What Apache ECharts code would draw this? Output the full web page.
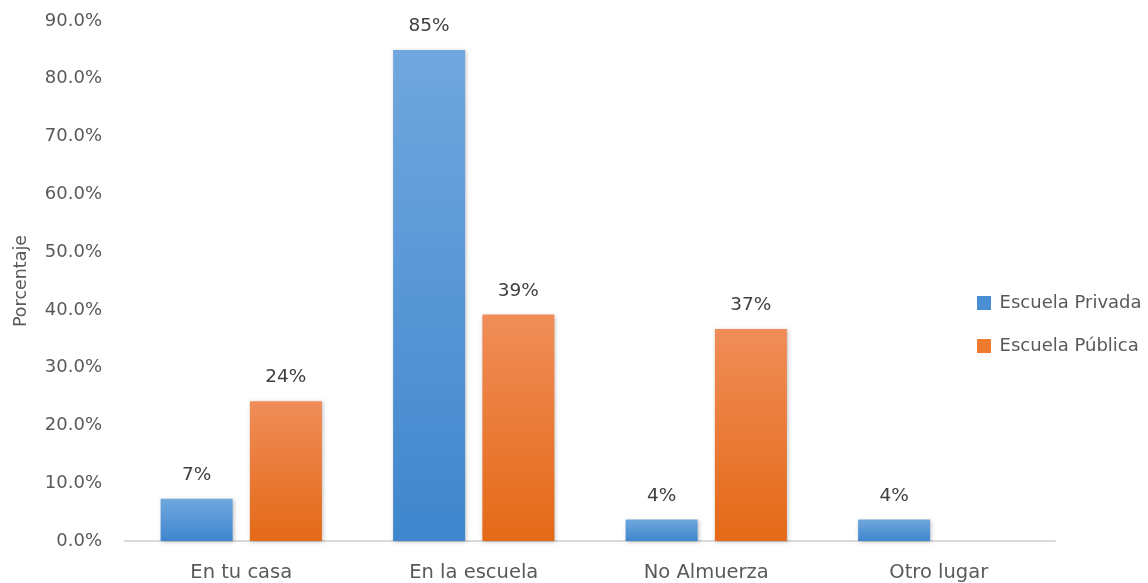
<!DOCTYPE html>
<html>
<head>
<meta charset="utf-8">
<script src="https://cdn.jsdelivr.net/npm/echarts@6/dist/echarts.min.js"></script>
<style>
  html, body { margin: 0; padding: 0; background: #fff; }
  #chart { width: 1148px; height: 583px; }
</style>
</head>
<body>
<div id="chart"></div>
<script>
// Lugar donde almuerzan los estudiantes, por tipo de escuela (%)
const categories = ['En tu casa', 'En la escuela', 'No Almuerza', 'Otro lugar'];
const privada = [7.3, 85.0, 3.7, 3.7];
const publica = [24.2, 39.2, 36.7, 0];
const seriesNames = ['Escuela Privada', 'Escuela Pública'];

const FONT = '"DejaVu Sans", sans-serif';

function grad(top, bottom) {
  return new echarts.graphic.LinearGradient(0, 0, 0, 1, [
    { offset: 0, color: top },
    { offset: 1, color: bottom }
  ]);
}

function barSeries(name, data, top, bottom) {
  return {
    name: name,
    type: 'bar',
    data: data.map(v => v === 0 ? null : v),
    barWidth: 72,
    barGap: '24%',
    itemStyle: {
      color: grad(top, bottom),
      shadowColor: 'rgba(0,0,0,0.25)',
      shadowBlur: 4,
      shadowOffsetX: 1,
      shadowOffsetY: 1
    },
    label: {
      show: true,
      position: 'top',
      distance: 14,
      color: '#404040',
      fontSize: 18.5,
      fontFamily: FONT,
      formatter: p => Math.round(p.value) + '%'
    }
  };
}

const chart = echarts.init(document.getElementById('chart'));
chart.setOption({
  animation: false,
  grid: { left: 125, right: 93, top: 21, bottom: 41 },
  legend: {
    orient: 'vertical',
    left: 972,
    top: 289,
    itemGap: 25,
    itemWidth: 14,
    itemHeight: 14,
    icon: 'rect',
    textStyle: { color: '#595959', fontSize: 18, fontFamily: FONT },
    // thin space between the swatch and the series name
    formatter: name => '\u2009' + name,
    data: [
      { name: seriesNames[0], itemStyle: { color: '#4A8FD4' } },
      { name: seriesNames[1], itemStyle: { color: '#EE7A2E' } }
    ]
  },
  xAxis: {
    type: 'category',
    data: categories,
    axisLine: { lineStyle: { color: '#D9D9D9', width: 2 } },
    axisTick: { show: false },
    axisLabel: { color: '#595959', fontSize: 19.5, fontFamily: FONT, margin: 22 }
  },
  yAxis: {
    type: 'value',
    min: 0,
    max: 90,
    interval: 10,
    name: 'Porcentaje',
    nameLocation: 'middle',
    nameGap: 95,
    nameTextStyle: { color: '#595959', fontSize: 17.5, fontFamily: FONT },
    splitLine: { show: false },
    axisLine: { show: false },
    axisTick: { show: false },
    axisLabel: {
      color: '#595959', fontSize: 18, fontFamily: FONT, margin: 23,
      formatter: v => v.toFixed(1) + '%'
    }
  },
  series: [
    barSeries(seriesNames[0], privada, '#70A7DE', '#3F86CD'),
    barSeries(seriesNames[1], publica, '#F08D58', '#E46917')
  ]
});
</script>
</body>
</html>
